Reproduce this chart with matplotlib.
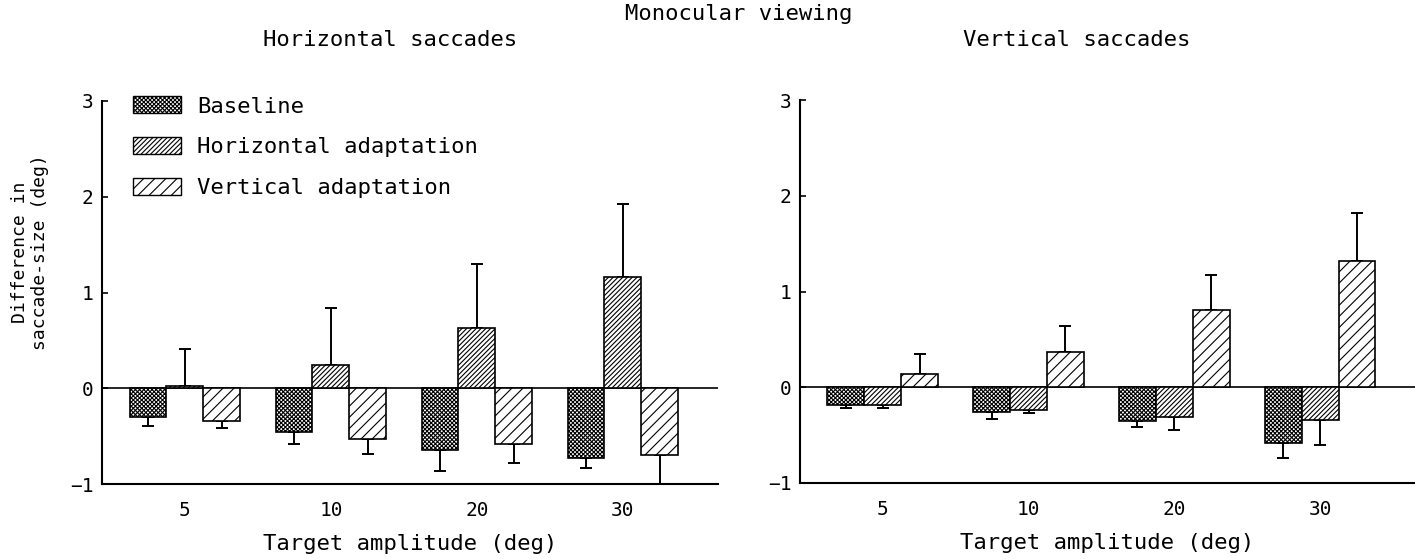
import numpy as np
import matplotlib.pyplot as plt
from matplotlib.patches import Patch

# target amplitudes (deg) and conditions
amplitudes = ['5', '10', '20', '30']
conditions = ['Baseline', 'Horizontal adaptation', 'Vertical adaptation']

# Horizontal saccades: mean difference in saccade size (deg) and SD
hor_baseline = [-0.30, -0.46, -0.64, -0.73]
hor_baseline_err = [0.09, 0.12, 0.22, 0.10]
hor_hadapt = [0.02, 0.24, 0.63, 1.16]
hor_hadapt_err = [0.39, 0.60, 0.67, 0.76]
hor_vadapt = [-0.34, -0.53, -0.58, -0.70]
hor_vadapt_err = [0.08, 0.16, 0.20, 0.35]

# Vertical saccades
ver_baseline = [-0.19, -0.26, -0.35, -0.58]
ver_baseline_err = [0.03, 0.07, 0.06, 0.16]
ver_hadapt = [-0.19, -0.24, -0.31, -0.34]
ver_hadapt_err = [0.03, 0.03, 0.14, 0.26]
ver_vadapt = [0.14, 0.37, 0.81, 1.32]
ver_vadapt_err = [0.21, 0.27, 0.36, 0.50]

hatches = ['xxxxxxxx', '///////', '///']
plt.rcParams['font.family'] = 'DejaVu Sans Mono'
plt.rcParams['hatch.linewidth'] = 0.8
TXT = 16


def draw_panel(ax, series, errors):
    x = np.arange(len(amplitudes))
    width = 0.253
    for i, (vals, errs) in enumerate(zip(series, errors)):
        pos = x + (i - 1) * width
        vals = np.array(vals)
        errs = np.array(errs)
        # error bar only on the side away from zero
        lower = np.where(vals < 0, errs, 0)
        upper = np.where(vals >= 0, errs, 0)
        ax.errorbar(pos, vals, yerr=[lower, upper], fmt='none', ecolor='black',
                    elinewidth=1.4, capsize=4, capthick=1.4, zorder=2)
        ax.bar(pos, vals, width=width, color='white', edgecolor='black',
               linewidth=1.2, hatch=hatches[i], zorder=3, label=conditions[i])
    ax.axhline(0, color='black', linewidth=1.2, zorder=1)
    ax.set_xlim(-0.568, 3.651)
    ax.set_ylim(-1, 3)
    ax.set_xticks(x)
    ax.set_xticklabels(amplitudes)
    ax.set_yticks([-1, 0, 1, 2, 3])
    ax.tick_params(axis='x', length=0, pad=12, labelsize=14)
    ax.tick_params(axis='y', direction='in', length=4, width=1.2, pad=6, labelsize=14)
    for s in ['top', 'right']:
        ax.spines[s].set_visible(False)
    for s in ['left', 'bottom']:
        ax.spines[s].set_linewidth(1.5)
    ax.set_xlabel('Target amplitude (deg)', fontsize=TXT, labelpad=10)


fig = plt.figure(figsize=(14.15, 5.59), dpi=100)
ax1 = fig.add_axes([102 / 1415, 75 / 559, 616 / 1415, 383 / 559])
ax2 = fig.add_axes([800 / 1415, 76 / 559, 615 / 1415, 383 / 559])

draw_panel(ax1, [hor_baseline, hor_hadapt, hor_vadapt],
           [hor_baseline_err, hor_hadapt_err, hor_vadapt_err])
draw_panel(ax2, [ver_baseline, ver_hadapt, ver_vadapt],
           [ver_baseline_err, ver_hadapt_err, ver_vadapt_err])

fig.text(739 / 1415, 1 - 14 / 559, 'Monocular viewing', ha='center', va='center', fontsize=TXT)
fig.text(390 / 1415, 1 - 40 / 559, 'Horizontal saccades', ha='center', va='center', fontsize=TXT)
fig.text(1077 / 1415, 1 - 40 / 559, 'Vertical saccades', ha='center', va='center', fontsize=TXT)
fig.text(30 / 1415, 1 - 252 / 559, 'Difference in\nsaccade-size (deg)', rotation=90,
         ha='center', va='center', multialignment='center', fontsize=13)

handles = [Patch(facecolor='white', edgecolor='black', hatch=h, linewidth=1.0) for h in hatches]
ax1.legend(handles, conditions, loc='upper left', bbox_to_anchor=(0.05, 1.012),
           frameon=False, fontsize=TXT, handlelength=2.15, handleheight=0.8,
           handletextpad=0.76, labelspacing=0.92, borderpad=0, borderaxespad=0)

fig.savefig('out.png', dpi=100)
